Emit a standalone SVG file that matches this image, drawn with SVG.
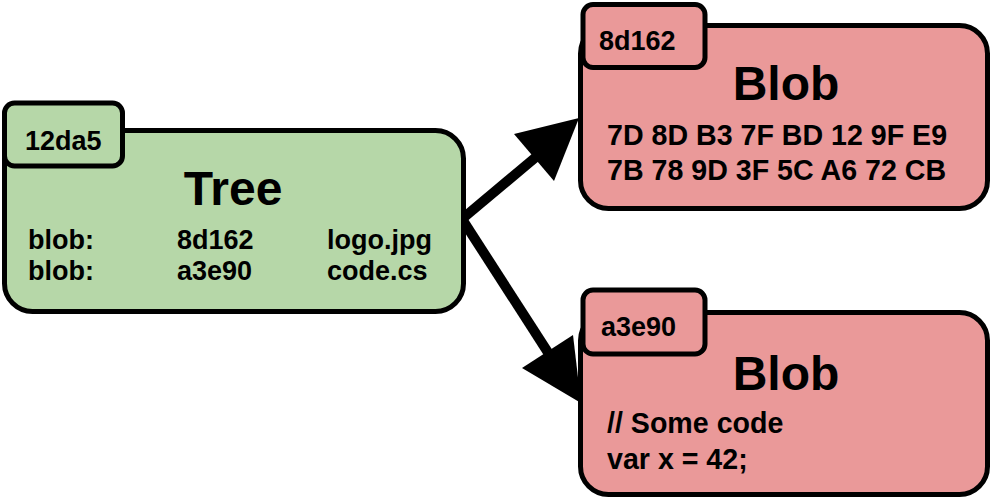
<svg xmlns="http://www.w3.org/2000/svg" width="992" height="499" viewBox="0 0 992 499">
<style>
.box{stroke:#000;stroke-width:5}
.tree{fill:#b6d7a8}
.blob{fill:#ea9999}
text{font-family:"Liberation Sans",Arial,sans-serif;font-weight:bold;fill:#000}
.sm{font-size:27px}
.md{font-size:28.6px}
.big{font-size:48px;text-anchor:middle}
.edge{stroke:#000;stroke-width:10;fill:none}
.head{fill:#000;stroke:none}
</style>
<g id="connectors">
<line class="edge" x1="462" y1="219" x2="536" y2="157"/>
<polygon class="head" points="579,118 514,134 554,181"/>
<line class="edge" x1="462" y1="219" x2="549" y2="354"/>
<polygon class="head" points="581,403 522,368 573,335"/>
</g>
<g id="tree">
<rect class="box tree" x="4.5" y="130.5" width="459" height="181" rx="28"/>
<rect class="box tree" x="4.5" y="103" width="118" height="63" rx="10"/>
<text class="sm" x="25" y="150">12da5</text>
<text class="big" x="233" y="205">Tree</text>
<text class="sm" x="28" y="249">blob:</text>
<text class="sm" x="177" y="249">8d162</text>
<text class="sm" x="327" y="249">logo.jpg</text>
<text class="sm" x="28" y="280">blob:</text>
<text class="sm" x="177" y="280">a3e90</text>
<text class="sm" x="327" y="280">code.cs</text>
</g>
<g id="blob1">
<rect class="box blob" x="580.5" y="25.5" width="407" height="183" rx="28"/>
<rect class="box blob" x="583" y="4.5" width="122" height="63" rx="10"/>
<text class="sm" x="599" y="50">8d162</text>
<text class="big" x="786" y="100">Blob</text>
<text class="md" x="607" y="145">7D 8D B3 7F BD 12 9F E9</text>
<text class="md" x="607" y="180">7B 78 9D 3F 5C A6 72 CB</text>
</g>
<g id="blob2">
<rect class="box blob" x="580.5" y="312.5" width="407" height="182" rx="28"/>
<rect class="box blob" x="583" y="290" width="122" height="64" rx="10"/>
<text class="sm" x="601" y="336">a3e90</text>
<text class="big" x="786" y="390">Blob</text>
<text class="md" x="607" y="433">// Some code</text>
<text class="md" x="607" y="469">var x = 42;</text>
</g>
</svg>
